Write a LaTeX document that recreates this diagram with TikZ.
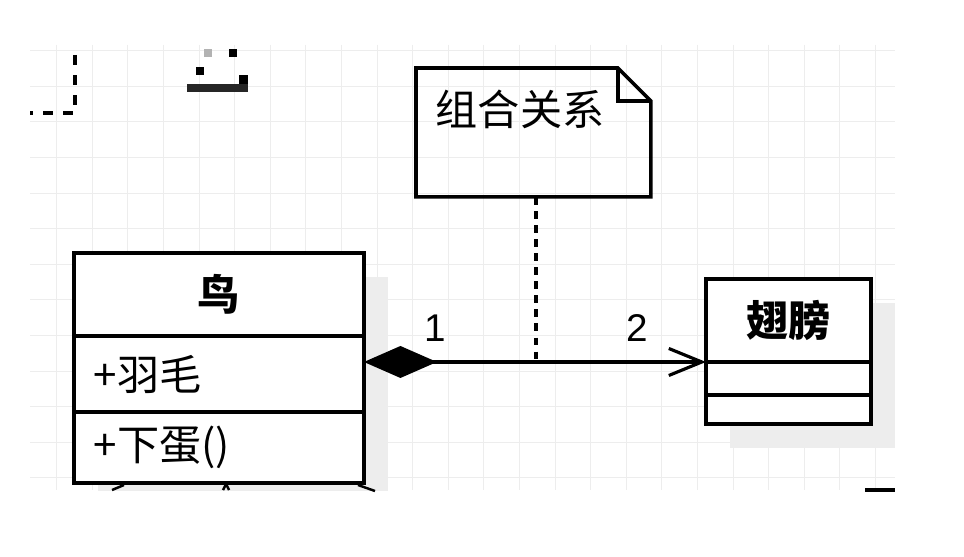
\documentclass[tikz,border=0pt]{standalone}
\usepackage{fontspec}
\setmainfont{Noto Sans CJK SC}
\newfontfamily\latin{Liberation Sans}
\usetikzlibrary{arrows.meta, positioning, backgrounds}

\begin{document}
\begin{tikzpicture}[
  x=0.02cm, y=-0.02cm,
  line width=2pt,
  compart/.style={draw, rectangle, outer sep=0pt, inner sep=0pt, fill=white,
                  minimum width=#1},
  compart/.default=5.8cm,
  classname/.style={compart=#1, minimum height=1.66cm,
                    font=\fontsize{24}{28}\selectfont\bfseries},
  classname/.default=5.8cm,
  memberbox/.style={compart, text width=5cm, align=left, inner xsep=0.4cm,
                    font=\fontsize{24}{28}\selectfont},
  notebox/.style={minimum width=4.7cm, minimum height=2.58cm, inner sep=0pt, outer sep=0pt},
  notetext/.style={inner sep=0pt, font=\fontsize{24}{28}\selectfont},
  mult/.style={inner sep=0pt, font=\latin\fontsize{22}{26}\selectfont},
  shadowbox/.style={fill=black!7, draw=none},
  gridline/.style={draw=black!7, line width=0.6pt},
  comp/.style={{Diamond[length=1.46cm, width=0.64cm]}-{Straight Barb[length=0.66cm, width=0.54cm]},
               line width=1.8pt},
  dashline/.style={dash pattern=on 4.5pt off 3.5pt, line width=2.2pt},
  fragment/.style={dash pattern=on 5.7pt off 5.7pt, line width=2pt},
]
  \useasboundingbox (0,0) rectangle (964,557);

  % class bird
  \node[classname, anchor=north west] (bird) at (74,253) {鸟};
  \node[memberbox, minimum height=1.52cm, below=0pt of bird] (birdattr) {+羽毛};
  \node[memberbox, minimum height=1.42cm, below=0pt of birdattr] (birdop) {+下蛋()};

  % class wing
  \node[classname=3.3cm, anchor=north west] (wing) at (706,279) {翅膀};
  \node[compart=3.3cm, minimum height=0.66cm, below=0pt of wing] (wingattr) {};
  \node[compart=3.3cm, minimum height=0.58cm, below=0pt of wingattr] (wingop) {};

  % note
  \node[notebox, anchor=north west] (note) at (416,68) {};
  \draw (note.north west) -- ([shift={(-33,0)}]note.north east)
        -- ([shift={(0,33)}]note.north east) -- (note.south east)
        -- (note.south west) -- cycle;
  \draw ([shift={(-33,0)}]note.north east) |- ([shift={(0,33)}]note.north east);
  \node[notetext, anchor=west] (notelabel) at (434,109) {组合关系};

  % composition
  \coordinate (joint) at (536,363);
  \draw[comp] (birdattr.east |- wingattr.north) -- (wingattr.north west);
  \draw[dashline] (note.south -| joint) -- (joint);
  \node[mult] (one) at (435,328) {1};
  \node[mult] (two) at (637,328) {2};

  % cut-off bits at the edges
  \draw[fragment] (75,55) -- (75,113) -- (30,113);
  \fill[black!30] (204,49) rectangle (212,57);
  \fill (229,49) rectangle (237,57);
  \fill (196,67) rectangle (204,75);
  \fill (239,75) rectangle (248,84);
  \fill[black!85] (187,84) rectangle (248,92);
  \draw[line width=1.4pt] (112,490) -- (124,485);
  \draw[line width=1.4pt] (223,490) -- (226,484) -- (229,490);
  \draw[line width=1.4pt] (358,485) -- (375,491);
  \draw[line width=1.8pt] (865,490) -- (895,490);

  \begin{scope}[on background layer]
    \fill[white] (0,0) rectangle (964,557);
    \clip (30,45) rectangle (895,490);
    \foreach \i in {0,...,23}
      \draw[gridline] (56.7+35.6*\i,45) -- (56.7+35.6*\i,490);
    \foreach \j in {0,...,12}
      \draw[gridline] (30,50.7+35.6*\j) -- (895,50.7+35.6*\j);
    \fill[shadowbox] ([shift={(24,24)}]bird.north west) rectangle ([shift={(24,24)}]birdop.south east);
    \fill[shadowbox] ([shift={(24,24)}]wing.north west) rectangle ([shift={(24,24)}]wingop.south east);
  \end{scope}
\end{tikzpicture}
\end{document}
